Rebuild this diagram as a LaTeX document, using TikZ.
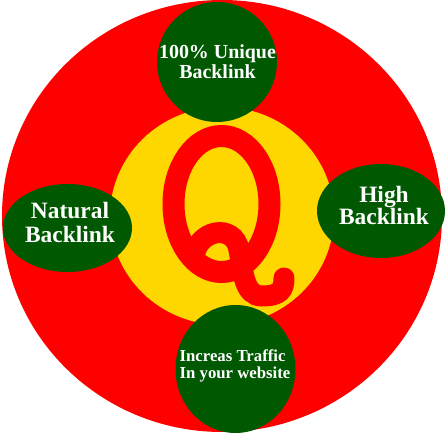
\documentclass[tikz,border=0pt]{standalone}
\usepackage{fontspec}
\setmainfont{Liberation Serif}
\definecolor{qred}{RGB}{255,0,0}
\definecolor{qyellow}{RGB}{255,215,0}
\definecolor{qgreen}{RGB}{0,88,0}
\tikzset{
  label/.style={text=white,inner sep=0pt,align=center,font=\bfseries},
}
\begin{document}
\begin{tikzpicture}[x=0.03cm,y=-0.03cm]
    \useasboundingbox (0,0) rectangle (446,433);
    \fill[qred] (222,216) ellipse [x radius=220,y radius=216];
    \fill[qyellow] (222,216) ellipse [x radius=112,y radius=109];
    % the Q
    \draw[qred,line width=0.66cm] (221.5,204) ellipse [x radius=48,y radius=68];
    \draw[qred,line width=0.63cm,line cap=round] (194,258)
      .. controls (196,230) and (234,222) .. (239,250)
      .. controls (243,272) and (244,296) .. (262,296)
      .. controls (280,296) and (284,290) .. (284,278);
    % the four spots
    \fill[qgreen] (217,62) ellipse [x radius=60,y radius=60];
    \fill[qgreen] (67.5,228) ellipse [x radius=64.5,y radius=44];
    \fill[qgreen] (381,211) ellipse [x radius=64,y radius=47];
    \fill[qgreen] (235.5,369) ellipse [x radius=60,y radius=64];
    \node[label,font=\fontsize{17}{17}\selectfont\bfseries] (unique) at (217.5,61.5)
      {100\% Unique\\Backlink};
    \node[label,font=\fontsize{20}{20.5}\selectfont\bfseries] (natural) at (70,222.5)
      {Natural\\Backlink};
    \node[label,font=\fontsize{20}{19}\selectfont\bfseries] (high) at (384,205.5)
      {High\\Backlink};
    \node[label,align=left,font=\fontsize{14.3}{14}\selectfont\bfseries] (traffic) at (235,366)
      {Increas Traffic\\In your website};
\end{tikzpicture}
\end{document}
